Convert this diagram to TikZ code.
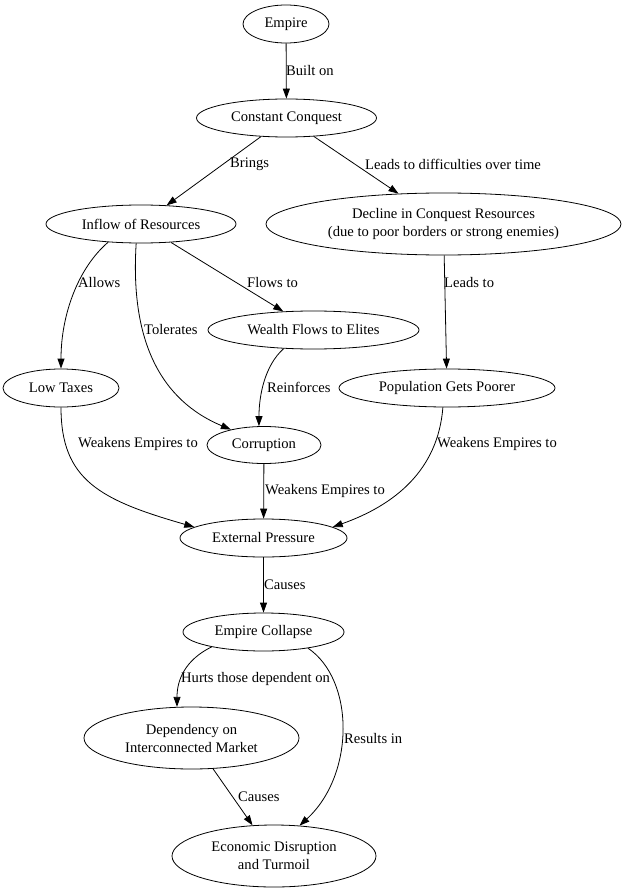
\documentclass[tikz,border=0pt]{standalone}
\usepackage{fontspec}
\setmainfont{Liberation Serif}
\usetikzlibrary{shapes.geometric, arrows.meta}

\begin{document}
\begin{tikzpicture}[x=1pt, y=-1pt,
  concept/.style={ellipse, draw, line width=0.8pt, inner sep=0pt, align=center,
    font=\fontsize{14.6}{18}\selectfont},
  link/.style={line width=0.8pt, -{Triangle[length=10pt, width=7pt]}},
  tag/.style={anchor=west, inner sep=0pt, font=\fontsize{14.6}{18}\selectfont}]
\useasboundingbox (0,0) rectangle (626,893);

% Nodes
\node[concept, minimum width=86, minimum height=38] (empire) at (286,24) {Empire};
\node[concept, minimum width=180, minimum height=38] (conquest) at (286.5,118) {Constant Conquest};
\node[concept, minimum width=190, minimum height=38] (inflow) at (141,224) {Inflow of Resources};
\node[concept, minimum width=355, minimum height=62] (decline) at (443.5,224) {Decline in Conquest Resources\\(due to poor borders or strong enemies)};
\node[concept, minimum width=211, minimum height=38] (elites) at (313.5,330) {Wealth Flows to Elites};
\node[concept, minimum width=116, minimum height=38] (lowtax) at (61,388) {Low Taxes};
\node[concept, minimum width=216, minimum height=38] (poorer) at (447,388) {Population Gets Poorer};
\node[concept, minimum width=114, minimum height=37] (corrupt) at (264,445) {Corruption};
\node[concept, minimum width=167, minimum height=38] (pressure) at (263.5,538) {External Pressure};
\node[concept, minimum width=161, minimum height=38] (collapse) at (263.5,632) {Empire Collapse};
\node[concept, minimum width=215, minimum height=62] (market) at (191.5,738) {Dependency on\\Interconnected Market};
\node[concept, minimum width=204, minimum height=62] (turmoil) at (274,856) {Economic Disruption\\and Turmoil};

% Edges
\draw[link] (empire) -- (conquest);
\draw[link] (conquest) -- (inflow);
\draw[link] (conquest) -- (decline);
\draw[link] (inflow.209) .. controls (78,268) and (61,315) .. (lowtax.90);
\draw[link] (inflow.256) .. controls (130,340) and (160,400) .. (corrupt.155);
\draw[link] (inflow) -- (elites);
\draw[link] (elites.212) .. controls (265,365) and (259,395) .. (corrupt.105);
\draw[link] (decline) -- (poorer);
\draw[link] (lowtax.270) .. controls (61,480) and (100,500) .. (pressure.171);
\draw[link] (corrupt) -- (pressure);
\draw[link] (poorer.258) .. controls (438,470) and (395,505) .. (pressure.9);
\draw[link] (pressure) -- (collapse);
\draw[link] (collapse.196) .. controls (185,660) and (177,680) .. (market.115);
\draw[link] (collapse.340) .. controls (355,680) and (355,775) .. (turmoil.50);
\draw[link] (market) -- (turmoil);

% Edge labels
\node[tag] (lbuilt) at (286,71) {Built on};
\node[tag] (lbrings) at (230,164) {Brings};
\node[tag] (ldiff) at (365,164) {Leads to difficulties over time};
\node[tag] (lallows) at (78,283) {Allows};
\node[tag] (lflows) at (247,283) {Flows to};
\node[tag] (ltol) at (144,330) {Tolerates};
\node[tag] (lleads) at (444,283) {Leads to};
\node[tag] (lreinf) at (267,387) {Reinforces};
\node[tag] (lweakl) at (78,444) {Weakens Empires to};
\node[tag] (lweakr) at (437,444) {Weakens Empires to};
\node[tag] (lweakm) at (265,491) {Weakens Empires to};
\node[tag] (lcause) at (264,585) {Causes};
\node[tag] (lhurts) at (181,679) {Hurts those dependent on};
\node[tag] (lresult) at (344,738) {Results in};
\node[tag] (lcause2) at (238,797) {Causes};
\end{tikzpicture}
\end{document}
